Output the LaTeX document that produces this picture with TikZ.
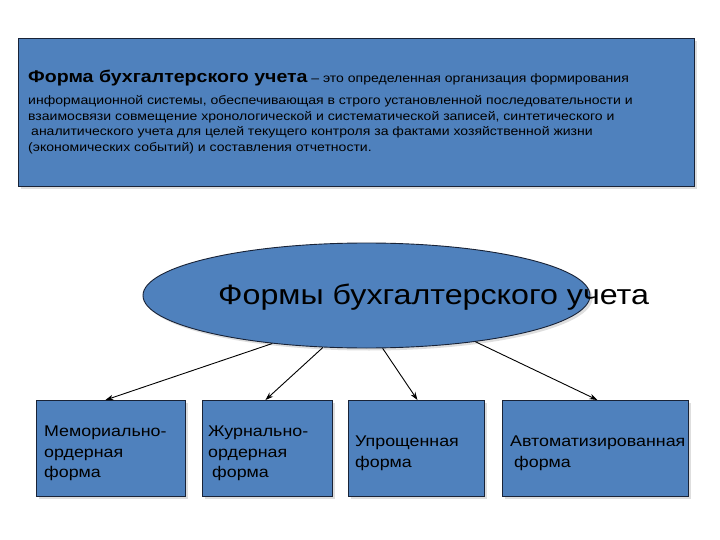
\documentclass[tikz,border=0pt]{standalone}
\usepackage{fontspec}
\setmainfont{Liberation Sans}[FakeStretch=1.15]
\usetikzlibrary{shapes.geometric,arrows.meta,shadows}
\definecolor{boxblue}{RGB}{79,129,189}
\definecolor{edgecol}{RGB}{25,35,55}
\begin{document}
\begin{tikzpicture}[x=1pt,y=-1pt,
  shade/.style={drop shadow={shadow xshift=2.5pt,shadow yshift=-2.5pt,fill=black!25,opacity=0.5}},
  panel/.style={draw=edgecol,line width=0.9pt,fill=boxblue,inner sep=0pt,anchor=north west,shade},
  txt/.style={anchor=base west,inner sep=0pt,text=black},
  small/.style={txt,font=\fontsize{12.2}{14}\selectfont},
  boxtxt/.style={txt,font=\fontsize{15.5}{19}\selectfont},
  conn/.style={-{Stealth[length=8pt,width=5.5pt]},line width=0.9pt,draw=black}]
\useasboundingbox (0,0) rectangle (720,540);
\fill[white] (0,0) rectangle (720,540);
% definition panel
\node[panel,minimum width=676pt,minimum height=148pt] (def) at (18,38) {};
\node[txt] (d1) at (28,83) {{\fontsize{17}{20}\selectfont\bfseries Форма бухгалтерского учета}\fontsize{12.2}{14}\selectfont{} – это определенная организация формирования};
\node[small] (d2) at (28,105) {информационной системы, обеспечивающая в строго установленной последовательности и};
\node[small] (d3) at (28,121) {взаимосвязи совмещение хронологической и систематической записей, синтетического и};
\node[small] (d4) at (31,136) {аналитического учета для целей текущего контроля за фактами хозяйственной жизни};
\node[small] (d5) at (28,152) {(экономических событий) и составления отчетности.};
% ellipse
\node[ellipse,draw=edgecol,line width=0.9pt,fill=boxblue,minimum width=447pt,minimum height=105pt,inner sep=0pt,shade] (ell) at (366.5,295.5) {};
\node[txt,font=\fontsize{28}{32}\selectfont] (etxt) at (218,304) {Формы бухгалтерского учета};
% boxes
\node[panel,minimum width=149pt,minimum height=96pt] (b1) at (36,400) {};
\node[panel,minimum width=130pt,minimum height=96pt] (b2) at (202,400) {};
\node[panel,minimum width=136pt,minimum height=96pt] (b3) at (348,400) {};
\node[panel,minimum width=186pt,minimum height=96pt] (b4) at (502,400) {};
\node[boxtxt] (b1a) at (44,436) {Мемориально-};
\node[boxtxt] (b1b) at (44,457) {ордерная};
\node[boxtxt] (b1c) at (44,477) {форма};
\node[boxtxt] (b2a) at (208,436) {Журнально-};
\node[boxtxt] (b2b) at (208,457) {ордерная};
\node[boxtxt] (b2c) at (212,477) {форма};
\node[boxtxt] (b3a) at (355,446) {Упрощенная};
\node[boxtxt] (b3b) at (355,467) {форма};
\node[boxtxt] (b4a) at (510,446) {Автоматизированная};
\node[boxtxt] (b4b) at (514,467) {форма};
% connectors
\draw[conn] (ell.207) -- ([xshift=-5.5pt]b1.north);
\draw[conn] (ell.230) -- ([xshift=-2pt]b2.north);
\draw[conn] (ell.287) -- ([xshift=1pt]b3.north);
\draw[conn] (ell.337.5) -- ([xshift=2pt]b4.north);
\end{tikzpicture}
\end{document}
